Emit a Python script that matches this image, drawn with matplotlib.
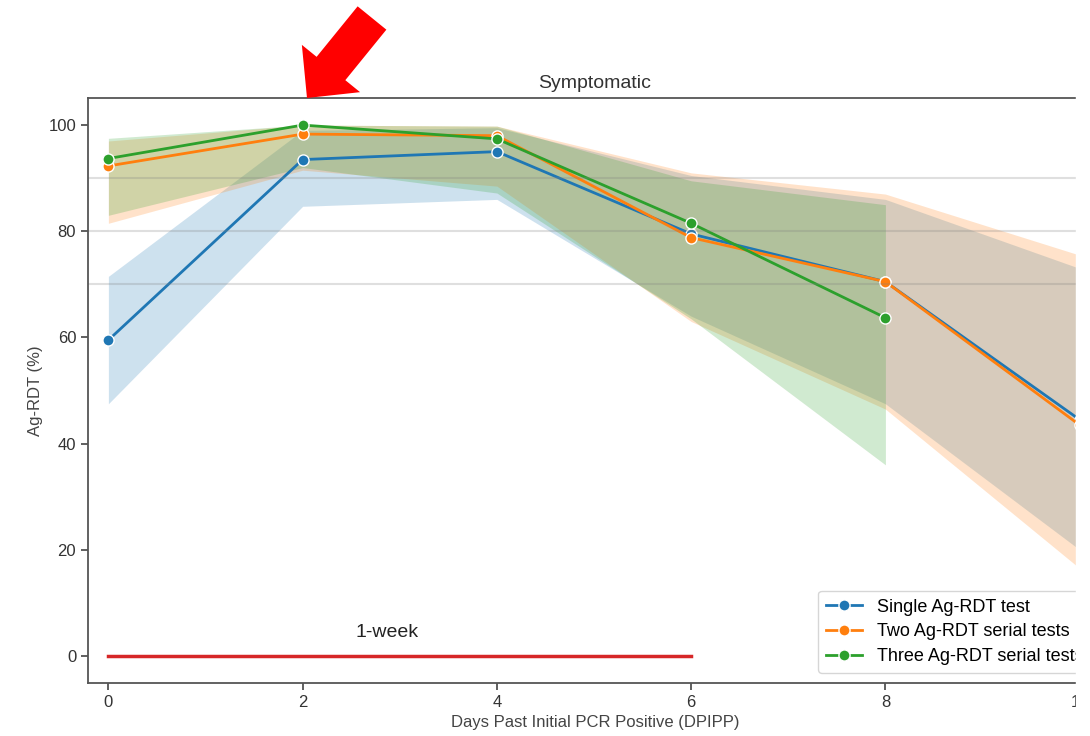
import matplotlib
matplotlib.use("Agg")
import matplotlib.pyplot as plt
from matplotlib.patches import FancyArrow, Rectangle
from matplotlib.transforms import IdentityTransform

plt.rcParams['font.family'] = ['Liberation Sans', 'DejaVu Sans']

# days past initial PCR positive
days = [0, 2, 4, 6, 8, 10]
days_three = [0, 2, 4, 6, 8]

# single Ag-RDT test (mean + band)
single = [59.5, 93.5, 95.0, 79.5, 70.5, 44.5]
single_lo = [47.5, 84.7, 86.0, 64.0, 47.5, 20.0]
single_hi = [71.5, 99.0, 99.5, 90.5, 86.0, 73.0]

# two serial tests
two = [92.3, 98.3, 98.0, 78.8, 70.5, 43.5]
two_lo = [81.5, 91.5, 88.5, 63.0, 46.5, 16.5]
two_hi = [97.0, 100.0, 99.8, 91.0, 87.0, 75.5]

# three serial tests
three = [93.7, 100.0, 97.4, 81.5, 63.7]
three_lo = [83.0, 92.0, 87.2, 63.5, 36.0]
three_hi = [97.5, 100.0, 99.8, 89.5, 85.0]

ref_lines = [90, 80, 70]
week_days = [0, 6]
week_level = [0, 0]

fig = plt.figure(figsize=(10.9, 7.36), dpi=100)
ax = fig.add_axes([88 / 1090, 53 / 736, 1014 / 1090, 585 / 736])

series = [
    (days, single, single_lo, single_hi, '#1f77b4', 'Single Ag-RDT test'),
    (days, two, two_lo, two_hi, '#ff7f0e', 'Two Ag-RDT serial tests'),
    (days_three, three, three_lo, three_hi, '#2ca02c', 'Three Ag-RDT serial tests'),
]
for x, y, lo, hi, c, lab in series:
    ax.fill_between(x, lo, hi, color=c, alpha=0.22, linewidth=0)
    ax.plot(x, y, '-o', color=c, lw=2, ms=8, mec='white', mew=1, label=lab)

for r in ref_lines:
    ax.axhline(r, color='gray', alpha=0.25, lw=1.5)

ax.plot(week_days, week_level, color='#d62728', lw=2.5)
ax.text(2.87, 4.5, '1-week', ha='center', va='center', fontsize=14, color='#222222')

ax.set_xlim(-0.21, 10.23)
ax.set_ylim(-5.1, 105.1)
ax.set_xticks([0, 2, 4, 6, 8, 10])
ax.set_yticks([0, 20, 40, 60, 80, 100])
ax.tick_params(direction='out', length=5, width=1.2, color='#444444', labelsize=12,
               labelcolor='#333333')
for s in ax.spines.values():
    s.set_color('#555555')
    s.set_linewidth(1.3)
ax.set_title('Symptomatic', fontsize=14, color='#333333', pad=7)
ax.set_xlabel('Days Past Initial PCR Positive (DPIPP)', fontsize=12, color='#444444')
ax.set_ylabel('Ag-RDT (%)', fontsize=12, color='#444444')
ax.legend(loc='lower left', bbox_to_anchor=(0.72, 0.017), fontsize=13, frameon=True,
          edgecolor='#cccccc', handlelength=2.0, labelspacing=0.42, borderaxespad=0,
          borderpad=0.45)

# red annotation arrow (pixel coords)
fig.add_artist(FancyArrow(372, 718, -65, -80, width=37, head_width=75, head_length=38,
                          length_includes_head=True, color='red', lw=0,
                          transform=IdentityTransform()))
# cropped right edge
fig.add_artist(Rectangle((1076 / 1090, 0), 0.02, 1, transform=fig.transFigure,
                         color='white', zorder=20))

fig.savefig('out.png', dpi=100)
